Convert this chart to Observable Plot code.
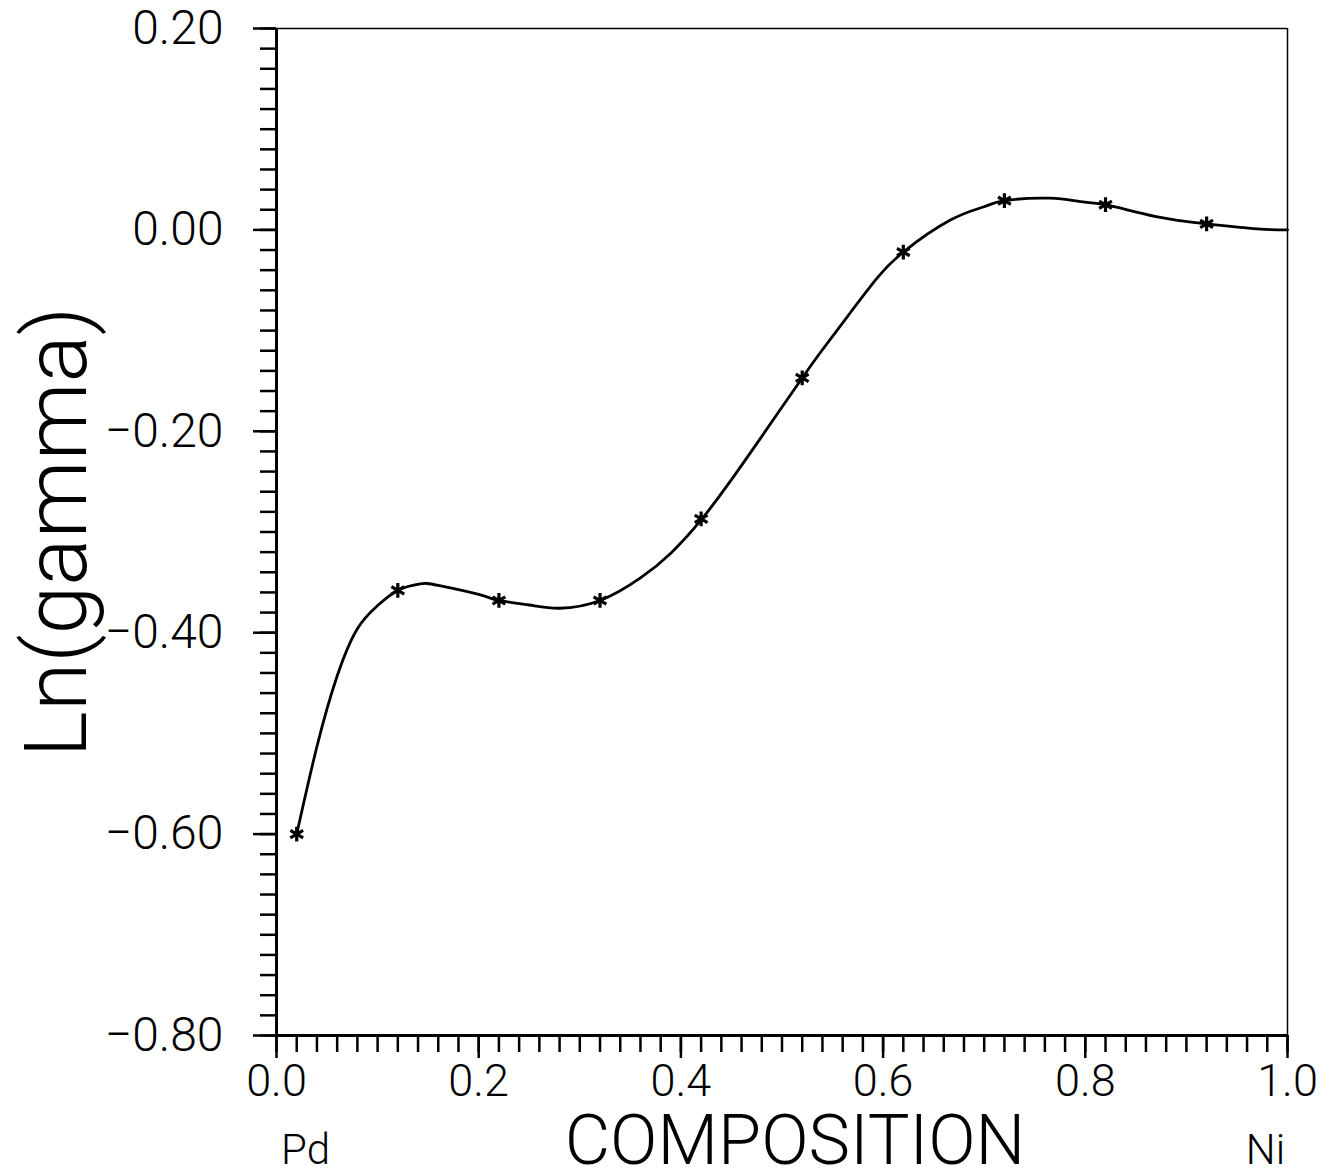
<!DOCTYPE html>
<html>
<head>
<meta charset="utf-8">
<script src="https://cdn.jsdelivr.net/npm/d3@7"></script>
<script src="https://cdn.jsdelivr.net/npm/@observablehq/plot@0.6"></script>
<style>
  html, body { margin: 0; padding: 0; background: #fff; }
  #chart svg { display: block; }
</style>
</head>
<body>
<div id="chart"></div>
<script>
// Measured points (composition, ln gamma)
const compX = [0.02, 0.12, 0.22, 0.32, 0.42, 0.52, 0.62, 0.72, 0.82, 0.92];
const lnGamma = [-0.600, -0.358, -0.368, -0.368, -0.287, -0.147, -0.022, 0.029, 0.025, 0.006];

// Fitted curve
const fitX = [0.02, 0.04, 0.06, 0.08, 0.10, 0.12, 0.142, 0.16, 0.20, 0.22, 0.25, 0.28, 0.32, 0.36, 0.39, 0.42, 0.45, 0.48, 0.52, 0.54, 0.567, 0.594, 0.62, 0.667, 0.70, 0.72, 0.765, 0.795, 0.82, 0.87, 0.92, 0.97, 1.0];
const fitY = [-0.600, -0.513, -0.443, -0.396, -0.373, -0.358, -0.3515, -0.353, -0.362, -0.368, -0.3725, -0.3757, -0.368, -0.3456, -0.321, -0.288, -0.248, -0.205, -0.147, -0.119, -0.083, -0.048, -0.022, 0.010, 0.023, 0.029, 0.0315, 0.028, 0.025, 0.0132, 0.006, 0.001, 0.0];

// Tick labels
const yMajor = [-0.8, -0.6, -0.4, -0.2, 0.0, 0.2];
const xMajor = [0.0, 0.2, 0.4, 0.6, 0.8, 1.0];
const yMinor = d3.ticks(-0.8, 0.2, 50);
const xMinor = d3.ticks(0, 1, 50);

const points = compX.map((x, i) => ({x, y: lnGamma[i]}));
const fit = fitX.map((x, i) => ({x, y: fitY[i]}));

const font = "Roboto, 'Liberation Sans', sans-serif";

const chart = Plot.plot({
  width: 1325,
  height: 1174,
  marginLeft: 276,
  marginRight: 38,
  marginTop: 28,
  marginBottom: 139,
  style: {fontFamily: font, background: "#fff", color: "#000", fontWeight: 300},
  x: {domain: [0, 1]},
  y: {domain: [-0.8, 0.2]},
  marks: [
    Plot.axisY({ticks: yMinor, tickSize: 16, strokeWidth: 2.5, text: null, label: null}),
    Plot.axisY({ticks: yMajor, tickSize: 23, strokeWidth: 2.5, tickPadding: 30, fontSize: 48,
      tickFormat: d3.format(".2f"), label: null, style: {letterSpacing: "2px"}}),
    Plot.axisX({ticks: xMinor, tickSize: 17, strokeWidth: 2.5, text: null, label: null}),
    Plot.axisX({ticks: xMajor, tickSize: 23, strokeWidth: 2.5, tickPadding: 6, fontSize: 45,
      tickFormat: d3.format(".1f"), label: null, style: {letterSpacing: "2px"}}),
    Plot.ruleY([0.2], {strokeWidth: 1.5}),
    Plot.ruleX([1], {strokeWidth: 1.5}),
    Plot.ruleX([0], {strokeWidth: 3}),
    Plot.ruleY([-0.8], {strokeWidth: 3}),
    Plot.line(fit, {x: "x", y: "y", curve: "natural", strokeWidth: 2.8}),
    Plot.dot(points, {x: "x", y: "y", symbol: "asterisk", r: 7, strokeWidth: 3.2, stroke: "#000"}),
    Plot.text(["Ln(gamma)"], {frameAnchor: "left", textAnchor: "middle", dx: -219, rotate: -90, fontSize: 88, fontWeight: 300, lineAnchor: "middle"}),
    Plot.text(["COMPOSITION"], {frameAnchor: "bottom", textAnchor: "middle", dx: 13, dy: 79, lineAnchor: "top", fontSize: 70, fontWeight: 300}),
    Plot.text(["Pd"], {frameAnchor: "bottom-left", textAnchor: "middle", dx: 29, dy: 99, lineAnchor: "top", fontSize: 42, fontWeight: 300}),
    Plot.text(["Ni"], {frameAnchor: "bottom-right", textAnchor: "middle", dx: -22, dy: 99, lineAnchor: "top", fontSize: 42, fontWeight: 300})
  ]
});
document.getElementById("chart").appendChild(chart);
</script>
</body>
</html>
